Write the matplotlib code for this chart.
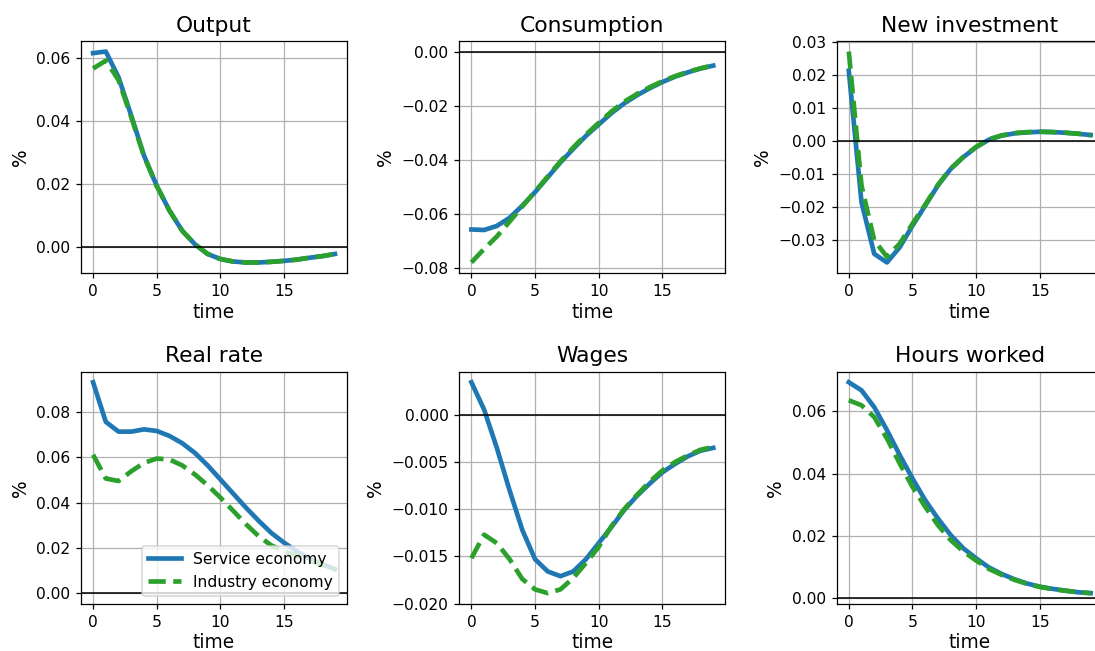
import matplotlib
matplotlib.use("Agg")
import matplotlib.pyplot as plt
from matplotlib.ticker import MultipleLocator

time = list(range(20))

titles = ["Output", "Consumption", "New investment", "Real rate", "Wages", "Hours worked"]

output_service = [0.0616, 0.0621, 0.0539, 0.0417, 0.0290, 0.0194, 0.0115, 0.0051, 0.0008, -0.0023,
                  -0.0039, -0.0047, -0.0050, -0.0050, -0.0048, -0.0045, -0.0041, -0.0035, -0.0030, -0.0023]
output_industry = [0.0567, 0.0592, 0.0530, 0.0412, 0.0288, 0.0193, 0.0115, 0.0051, 0.0008, -0.0023,
                   -0.0039, -0.0047, -0.0050, -0.0050, -0.0048, -0.0045, -0.0041, -0.0035, -0.0030, -0.0023]

cons_service = [-0.0658, -0.0660, -0.0645, -0.0615, -0.0570, -0.0520, -0.0465, -0.0410, -0.0360, -0.0312,
                -0.0270, -0.0228, -0.0192, -0.0162, -0.0136, -0.0113, -0.0093, -0.0077, -0.0063, -0.0052]
cons_industry = [-0.0780, -0.0730, -0.0684, -0.0629, -0.0573, -0.0518, -0.0462, -0.0406, -0.0355, -0.0307,
                 -0.0264, -0.0222, -0.0186, -0.0157, -0.0132, -0.0110, -0.0091, -0.0075, -0.0062, -0.0051]

inv_service = [0.0214, -0.0185, -0.0341, -0.0367, -0.0321, -0.0256, -0.0195, -0.0134, -0.0084, -0.0048,
               -0.0018, 0.0005, 0.0017, 0.0024, 0.0027, 0.0029, 0.0028, 0.0026, 0.0023, 0.0019]
inv_industry = [0.0272, -0.0134, -0.0300, -0.0350, -0.0310, -0.0250, -0.0192, -0.0132, -0.0083, -0.0047,
                -0.0017, 0.0006, 0.0018, 0.0025, 0.0028, 0.0029, 0.0028, 0.0026, 0.0023, 0.0019]

rate_service = [0.0931, 0.0756, 0.0713, 0.0713, 0.0723, 0.0716, 0.0694, 0.0662, 0.0619, 0.0564,
                0.0502, 0.0440, 0.0378, 0.0320, 0.0266, 0.0223, 0.0185, 0.0153, 0.0128, 0.0106]
rate_industry = [0.0611, 0.0506, 0.0495, 0.0538, 0.0575, 0.0594, 0.0590, 0.0564, 0.0524, 0.0476,
                 0.0422, 0.0364, 0.0305, 0.0252, 0.0211, 0.0185, 0.0165, 0.0145, 0.0125, 0.0105]

wage_service = [0.00346, 0.00056, -0.0035, -0.0080, -0.0122, -0.0153, -0.0166, -0.0171, -0.0166, -0.0153,
                -0.0136, -0.0119, -0.0101, -0.0086, -0.0073, -0.0061, -0.0052, -0.0044, -0.0038, -0.0035]
wage_industry = [-0.0152, -0.0127, -0.0136, -0.0153, -0.0174, -0.0185, -0.0189, -0.0185, -0.0173, -0.0157,
                 -0.0140, -0.0118, -0.0100, -0.0085, -0.0071, -0.0059, -0.0050, -0.0043, -0.0037, -0.0034]

hours_service = [0.0694, 0.0668, 0.0614, 0.0540, 0.0460, 0.0385, 0.0315, 0.0256, 0.0203, 0.0160,
                 0.0128, 0.0099, 0.0078, 0.0061, 0.0047, 0.0037, 0.0030, 0.0024, 0.0019, 0.0016]
hours_industry = [0.0636, 0.0620, 0.0582, 0.0513, 0.0433, 0.0358, 0.0294, 0.0235, 0.0187, 0.0150,
                  0.0121, 0.0094, 0.0075, 0.0059, 0.0046, 0.0036, 0.0029, 0.0024, 0.0019, 0.0016]

y_steps = [0.02, 0.02, 0.01, 0.02, 0.005, 0.02]

service = [output_service, cons_service, inv_service, rate_service, wage_service, hours_service]
industry = [output_industry, cons_industry, inv_industry, rate_industry, wage_industry, hours_industry]

W, H = 1095, 651
DPI = 112
fig, axes = plt.subplots(2, 3, figsize=(W / DPI, H / DPI), dpi=DPI)

col_left = [81, 459.3, 836.7]
row_top = [41, 371.7]
ax_w, ax_h = 266, 232

for i, ax in enumerate(axes.flat):
    r, c = divmod(i, 3)
    ax.set_position([col_left[c] / W, 1 - (row_top[r] + ax_h) / H, ax_w / W, ax_h / H])
    ax.plot(time, service[i], color="C0", lw=3, label="Service economy")
    ax.plot(time, industry[i], color="C2", lw=3, ls="--", label="Industry economy")
    ax.axhline(0, color="black", lw=1)
    ax.grid(True)
    ax.set_title(titles[i], fontsize=14)
    ax.set_xlabel("time", fontsize=12, labelpad=2.5)
    ax.set_ylabel("%", fontsize=12)
    ax.set_xticks([0, 5, 10, 15])
    ax.yaxis.set_major_locator(MultipleLocator(y_steps[i]))

axes[1, 0].legend(loc="lower right", fontsize=10, handlelength=2.1)
fig.savefig("out.png", dpi=DPI)
